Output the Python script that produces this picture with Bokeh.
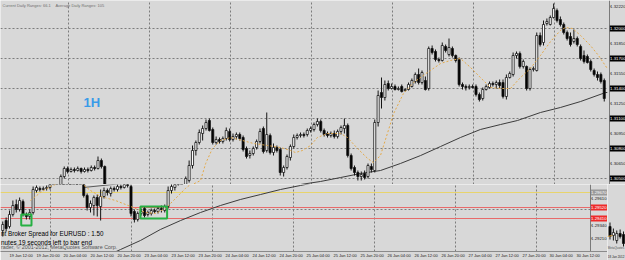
from bokeh.plotting import figure
from bokeh.models import Range1d, FixedTicker, Label, Grid, ColumnDataSource
from bokeh.layouts import column, row
from bokeh.embed import file_html
from bokeh.resources import INLINE
from bokeh.core.properties import value

BG = "#d8d8d8"
FONT = "Liberation Sans"

# ---------------- main 1H window (EURUSD) ----------------
main_open = [
    1.3033, 1.3042, 1.3052, 1.3060, 1.3057, 1.3059, 1.3058, 1.3060, 1.3057, 1.3059,
    1.3058, 1.3061, 1.3060, 1.3068, 1.3062, 1.3042, 1.3032, 1.3036, 1.3030, 1.3034,
    1.3038, 1.3039, 1.3040, 1.3038, 1.3040, 1.3028, 1.3022, 1.3024, 1.3023, 1.3025,
    1.3024, 1.3026, 1.3025, 1.3030, 1.3034, 1.3036, 1.3038, 1.3040, 1.3042, 1.3048,
    1.3063, 1.3078, 1.3086, 1.3095, 1.3100, 1.3108, 1.3099, 1.3086, 1.3089, 1.3087,
    1.3090, 1.3097, 1.3089, 1.3092, 1.3094, 1.3091, 1.3080, 1.3073, 1.3075, 1.3081,
    1.3087, 1.3100, 1.3078, 1.3093, 1.3076, 1.3081, 1.3079, 1.3056, 1.3061, 1.3071,
    1.3082, 1.3091, 1.3093, 1.3094, 1.3094, 1.3098, 1.3099, 1.3104, 1.3107, 1.3098,
    1.3095, 1.3093, 1.3095, 1.3092, 1.3097, 1.3100, 1.3103, 1.3073, 1.3061, 1.3056,
    1.3052, 1.3055, 1.3052, 1.3062, 1.3058, 1.3106, 1.3136, 1.3131, 1.3145, 1.3140,
    1.3142, 1.3139, 1.3142, 1.3138, 1.3139, 1.3142, 1.3147, 1.3154, 1.3146, 1.3148,
    1.3140, 1.3180, 1.3177, 1.3169, 1.3168, 1.3182, 1.3174, 1.3180, 1.3173, 1.3169,
    1.3144, 1.3142, 1.3141, 1.3142, 1.3142, 1.3134, 1.3130, 1.3139, 1.3141, 1.3145,
    1.3144, 1.3146, 1.3146, 1.3132, 1.3151, 1.3154, 1.3173, 1.3175, 1.3162, 1.3162,
    1.3140, 1.3159, 1.3158, 1.3193, 1.3186, 1.3205, 1.3204, 1.3211, 1.3218, 1.3209,
    1.3204, 1.3196, 1.3192, 1.3187, 1.3190, 1.3182, 1.3173, 1.3172, 1.3167, 1.3158,
    1.3154, 1.3154, 1.3148]
main_close = [
    1.3040, 1.3052, 1.3060, 1.3057, 1.3059, 1.3058, 1.3060, 1.3057, 1.3059, 1.3058,
    1.3061, 1.3060, 1.3068, 1.3062, 1.3042, 1.3032, 1.3036, 1.3030, 1.3034, 1.3038,
    1.3039, 1.3040, 1.3038, 1.3040, 1.3028, 1.3022, 1.3024, 1.3023, 1.3025, 1.3024,
    1.3026, 1.3025, 1.3030, 1.3034, 1.3036, 1.3038, 1.3040, 1.3042, 1.3050, 1.3063,
    1.3078, 1.3086, 1.3096, 1.3100, 1.3106, 1.3098, 1.3086, 1.3089, 1.3087, 1.3090,
    1.3098, 1.3089, 1.3092, 1.3094, 1.3090, 1.3079, 1.3072, 1.3075, 1.3080, 1.3087,
    1.3097, 1.3077, 1.3094, 1.3076, 1.3081, 1.3078, 1.3056, 1.3061, 1.3072, 1.3082,
    1.3091, 1.3093, 1.3094, 1.3093, 1.3098, 1.3100, 1.3104, 1.3107, 1.3098, 1.3094,
    1.3093, 1.3095, 1.3092, 1.3097, 1.3101, 1.3103, 1.3073, 1.3060, 1.3056, 1.3052,
    1.3054, 1.3051, 1.3063, 1.3059, 1.3106, 1.3133, 1.3131, 1.3144, 1.3140, 1.3142,
    1.3139, 1.3140, 1.3137, 1.3139, 1.3144, 1.3148, 1.3154, 1.3146, 1.3156, 1.3139,
    1.3180, 1.3176, 1.3169, 1.3168, 1.3183, 1.3178, 1.3181, 1.3173, 1.3168, 1.3144,
    1.3142, 1.3141, 1.3142, 1.3141, 1.3134, 1.3129, 1.3139, 1.3142, 1.3145, 1.3144,
    1.3146, 1.3143, 1.3132, 1.3151, 1.3155, 1.3173, 1.3175, 1.3162, 1.3167, 1.3140,
    1.3159, 1.3160, 1.3193, 1.3184, 1.3204, 1.3207, 1.3211, 1.3220, 1.3208, 1.3204,
    1.3196, 1.3190, 1.3184, 1.3190, 1.3184, 1.3170, 1.3167, 1.3166, 1.3159, 1.3154,
    1.3151, 1.3147, 1.3130]
main_high = [
    1.3042, 1.3054, 1.3062, 1.3062, 1.3061, 1.3061, 1.3062, 1.3061, 1.3061, 1.3061,
    1.3063, 1.3063, 1.3072, 1.3070, 1.3063, 1.3042, 1.3040, 1.3039, 1.3038, 1.3040,
    1.3041, 1.3042, 1.3042, 1.3042, 1.3041, 1.3030, 1.3026, 1.3027, 1.3028, 1.3028,
    1.3029, 1.3029, 1.3032, 1.3036, 1.3039, 1.3040, 1.3041, 1.3043, 1.3052, 1.3068,
    1.3083, 1.3088, 1.3099, 1.3103, 1.3109, 1.3110, 1.3101, 1.3092, 1.3091, 1.3092,
    1.3101, 1.3100, 1.3095, 1.3096, 1.3096, 1.3093, 1.3082, 1.3078, 1.3082, 1.3089,
    1.3100, 1.3102, 1.3116, 1.3095, 1.3085, 1.3083, 1.3081, 1.3063, 1.3074, 1.3084,
    1.3094, 1.3095, 1.3096, 1.3096, 1.3100, 1.3102, 1.3106, 1.3110, 1.3109, 1.3100,
    1.3097, 1.3097, 1.3098, 1.3099, 1.3103, 1.3110, 1.3105, 1.3075, 1.3063, 1.3058,
    1.3057, 1.3058, 1.3065, 1.3065, 1.3109, 1.3138, 1.3151, 1.3148, 1.3148, 1.3145,
    1.3144, 1.3142, 1.3144, 1.3140, 1.3146, 1.3150, 1.3156, 1.3160, 1.3158, 1.3152,
    1.3182, 1.3183, 1.3179, 1.3171, 1.3186, 1.3184, 1.3190, 1.3182, 1.3174, 1.3171,
    1.3146, 1.3144, 1.3144, 1.3144, 1.3144, 1.3136, 1.3141, 1.3144, 1.3147, 1.3147,
    1.3148, 1.3149, 1.3149, 1.3154, 1.3157, 1.3176, 1.3177, 1.3177, 1.3169, 1.3163,
    1.3161, 1.3162, 1.3196, 1.3196, 1.3208, 1.3210, 1.3213, 1.3225, 1.3220, 1.3212,
    1.3206, 1.3198, 1.3196, 1.3199, 1.3192, 1.3184, 1.3178, 1.3174, 1.3169, 1.3160,
    1.3157, 1.3156, 1.3150]
main_low = [
    1.3030, 1.3040, 1.3050, 1.3055, 1.3056, 1.3056, 1.3057, 1.3055, 1.3056, 1.3056,
    1.3057, 1.3058, 1.3059, 1.3060, 1.3038, 1.3028, 1.3026, 1.3024, 1.3028, 1.3032,
    1.3035, 1.3036, 1.3035, 1.3036, 1.3024, 1.3018, 1.3019, 1.3020, 1.3021, 1.3021,
    1.3022, 1.3022, 1.3023, 1.3028, 1.3031, 1.3033, 1.3035, 1.3037, 1.3040, 1.3046,
    1.3060, 1.3073, 1.3084, 1.3088, 1.3098, 1.3097, 1.3084, 1.3084, 1.3085, 1.3085,
    1.3088, 1.3087, 1.3087, 1.3089, 1.3088, 1.3077, 1.3070, 1.3070, 1.3073, 1.3079,
    1.3085, 1.3075, 1.3076, 1.3074, 1.3073, 1.3076, 1.3053, 1.3052, 1.3059, 1.3068,
    1.3080, 1.3089, 1.3091, 1.3091, 1.3092, 1.3096, 1.3097, 1.3102, 1.3096, 1.3092,
    1.3091, 1.3091, 1.3090, 1.3090, 1.3094, 1.3095, 1.3071, 1.3058, 1.3053, 1.3048,
    1.3048, 1.3049, 1.3050, 1.3056, 1.3056, 1.3102, 1.3120, 1.3128, 1.3138, 1.3139,
    1.3138, 1.3138, 1.3136, 1.3137, 1.3138, 1.3141, 1.3145, 1.3144, 1.3144, 1.3138,
    1.3138, 1.3174, 1.3167, 1.3166, 1.3167, 1.3176, 1.3172, 1.3171, 1.3166, 1.3142,
    1.3139, 1.3138, 1.3139, 1.3140, 1.3132, 1.3127, 1.3128, 1.3138, 1.3140, 1.3142,
    1.3140, 1.3140, 1.3130, 1.3129, 1.3150, 1.3152, 1.3170, 1.3160, 1.3160, 1.3138,
    1.3138, 1.3157, 1.3157, 1.3182, 1.3183, 1.3203, 1.3203, 1.3210, 1.3206, 1.3202,
    1.3194, 1.3188, 1.3182, 1.3185, 1.3182, 1.3168, 1.3165, 1.3165, 1.3157, 1.3152,
    1.3148, 1.3145, 1.3127]

# dotted orange (fast) and dark (slow) moving averages: (bar, price)
ma_fast_bar = [39.4, 42.4, 43.9, 45.9, 48.3, 51.3, 54.8, 58.1, 62.2, 66.1, 69.0, 70.5,
               72.6, 75.0, 77.0, 80.0, 83.9, 85.9, 88.9, 91.9, 93.6, 95.7, 99.6, 102.5,
               105.5, 109.6, 113.5, 116.4, 119.4, 122.4, 125.3, 128.3, 131.3, 134.2,
               137.2, 140.1, 143.1, 146.1, 149.0, 150.5, 152.6, 155.0, 157.9, 160.3, 162.9]
ma_fast = [1.3043, 1.3048, 1.3065, 1.3080, 1.3088, 1.3091, 1.3088, 1.3085, 1.3083, 1.3081,
           1.3078, 1.3076, 1.3078, 1.3083, 1.3091, 1.3095, 1.3095, 1.3091, 1.3080, 1.3070,
           1.3066, 1.3073, 1.3115, 1.3135, 1.3146, 1.3156, 1.3165, 1.3168, 1.3170, 1.3161,
           1.3151, 1.3141, 1.3140, 1.3140, 1.3151, 1.3160, 1.3173, 1.3187, 1.3198, 1.3201,
           1.3200, 1.3193, 1.3183, 1.3173, 1.3160]
ma_slow_bar = [60.1, 64.0, 69.0, 72.0, 77.9, 83.9, 89.8, 95.7, 101.6, 107.6, 113.5, 119.4,
               125.3, 131.3, 136.3, 143.1, 149.0, 155.0, 162.4, 162.9]
ma_slow = [1.3034, 1.3038, 1.3042, 1.3044, 1.3047, 1.3051, 1.3055, 1.3058, 1.3065, 1.3073,
           1.3082, 1.3091, 1.3099, 1.3104, 1.3108, 1.3116, 1.3121, 1.3127, 1.3136, 1.3136]

main_grid_prices = [1.3200, 1.3170, 1.3140, 1.3110, 1.3080, 1.3050]
main_tick_prices = [1.3222, 1.3185, 1.3155, 1.3125, 1.3095, 1.3065]
main_vgrid_bars = [3.26, 27.26, 51.26, 75.26, 99.26, 123.26, 147.26]

# ---------------- lower window ----------------
bot_open = [
    1.2929, 1.2939, 1.2933, 1.2945, 1.2955, 1.2950, 1.2958, 1.2945, 1.2943, 1.2947,
    1.2969, 1.2971, 1.2970, 1.2971, 1.2972, 1.2977, 1.2983, 1.2987, 1.2989, 1.2988,
    1.2990, 1.2989, 1.2991, 1.2990, 1.2989, 1.2964, 1.2952, 1.2954, 1.2962, 1.2953,
    1.2963, 1.2969, 1.2966, 1.2971, 1.2970, 1.2973, 1.2972, 1.2975, 1.2973, 1.2948,
    1.2940, 1.2946, 1.2951, 1.2945, 1.2946, 1.2949, 1.2948, 1.2951, 1.2949, 1.2953,
    1.2969, 1.2972, 1.2977, 1.2979]
bot_close = [
    1.2935, 1.2931, 1.2945, 1.2954, 1.2950, 1.2959, 1.2945, 1.2943, 1.2947, 1.2970,
    1.2972, 1.2970, 1.2971, 1.2972, 1.2977, 1.2983, 1.2987, 1.2989, 1.2988, 1.2990,
    1.2989, 1.2991, 1.2990, 1.2993, 1.2964, 1.2952, 1.2956, 1.2962, 1.2954, 1.2963,
    1.2969, 1.2967, 1.2971, 1.2970, 1.2973, 1.2972, 1.2975, 1.2974, 1.2946, 1.2940,
    1.2946, 1.2948, 1.2944, 1.2947, 1.2949, 1.2948, 1.2951, 1.2950, 1.2953, 1.2969,
    1.2973, 1.2977, 1.2979, 1.2983]
bot_high = [
    1.2938, 1.2942, 1.2949, 1.2959, 1.2960, 1.2962, 1.2960, 1.2947, 1.2950, 1.2973,
    1.2974, 1.2973, 1.2973, 1.2974, 1.2981, 1.2985, 1.2989, 1.2991, 1.2991, 1.2992,
    1.2992, 1.2993, 1.2994, 1.2999, 1.2991, 1.2966, 1.2959, 1.2964, 1.2965, 1.2970,
    1.2972, 1.2971, 1.2973, 1.2973, 1.2975, 1.2975, 1.2977, 1.2978, 1.2975, 1.2950,
    1.2948, 1.2951, 1.2953, 1.2949, 1.2951, 1.2951, 1.2953, 1.2954, 1.2955, 1.2973,
    1.2977, 1.2979, 1.2983, 1.2987]
bot_low = [
    1.2923, 1.2928, 1.2931, 1.2943, 1.2947, 1.2948, 1.2943, 1.2940, 1.2940, 1.2945,
    1.2967, 1.2968, 1.2969, 1.2969, 1.2970, 1.2976, 1.2979, 1.2984, 1.2985, 1.2986,
    1.2987, 1.2987, 1.2987, 1.2987, 1.2962, 1.2949, 1.2947, 1.2944, 1.2943, 1.2939,
    1.2961, 1.2964, 1.2963, 1.2968, 1.2968, 1.2970, 1.2971, 1.2972, 1.2943, 1.2937,
    1.2938, 1.2944, 1.2942, 1.2943, 1.2944, 1.2946, 1.2946, 1.2947, 1.2947, 1.2951,
    1.2966, 1.2969, 1.2974, 1.2977]

bot_fast_bar = [8.2, 11.2, 14.1, 17.1, 23.0, 26.0, 29.0, 33.4, 37.9, 42.3, 45.3, 48.2,
                51.2, 54.1, 57.1]
bot_fast = [1.2959, 1.2967, 1.2973, 1.2977, 1.2977, 1.2969, 1.2963, 1.2959, 1.2953,
            1.2947, 1.2946, 1.2951, 1.2961, 1.2971, 1.2979]
bot_slow_bar = [30.4, 34.9, 40.8, 46.7, 52.7, 58.6, 64.5, 70.4, 76.4, 82.3, 88.2, 94.1]
bot_slow = [1.2903, 1.2910, 1.2919, 1.2930, 1.2939, 1.2947, 1.2954, 1.2960, 1.2965,
            1.2970, 1.2974, 1.2978]
trend_bar = [23.9, 38.4]
trend_price = [1.2972, 1.2977]

box_left = [5.47, 40.8]
box_right = [8.52, 48.7]
box_top = [1.2945, 1.2953]
box_bottom = [1.2934, 1.2941]

red_levels = [1.2952, 1.2941]
yellow_level = 1.2967
bot_grid_prices = [1.2950]
bot_tick_prices = [1.2961, 1.2934, 1.2921]
bot_vgrid_bars = [14.15, 38.15, 62.15, 86.15, 110.15, 134.15, 158.15]

time_labels = ["19 Jan 12:00", "19 Jan 20:00", "20 Jan 04:00", "20 Jan 12:00",
               "20 Jan 20:00", "23 Jan 04:00", "23 Jan 12:00", "23 Jan 20:00",
               "24 Jan 04:00", "24 Jan 12:00", "24 Jan 20:00", "25 Jan 04:00",
               "25 Jan 12:00", "25 Jan 20:00", "26 Jan 04:00", "26 Jan 12:00",
               "26 Jan 20:00", "27 Jan 04:00", "27 Jan 12:00", "27 Jan 20:00",
               "30 Jan 04:00", "30 Jan 12:00"]
time_bars = [2, 10, 18, 26, 34, 42, 50, 58, 66, 74, 82, 90, 98, 106, 114, 122,
             130, 138, 146, 154, 162, 170]

# ---------------- small third window ----------------
third_open = [1.2933, 1.2924, 1.2919, 1.2926, 1.2925]
third_close = [1.2923, 1.2927, 1.2926, 1.2923, 1.2916]
third_high = [1.2937, 1.2931, 1.2929, 1.2930, 1.2928]
third_low = [1.2920, 1.2919, 1.2916, 1.2921, 1.2913]

BAR_PX = 3.375   # pixels per bar in both windows


def candles(p, o, c, h, l, w=0.62):
    x = list(range(len(o)))
    src = ColumnDataSource(dict(
        x=x, h=h, l=l,
        top=[max(a, b) for a, b in zip(o, c)],
        bot=[min(a, b) for a, b in zip(o, c)],
        fill=["#ffffff" if b >= a else "#000000" for a, b in zip(o, c)]))
    p.segment("x", "h", "x", "l", source=src, line_color="#151515", line_width=1)
    p.vbar(x="x", width=w, top="top", bottom="bot", fill_color="fill",
           line_color="#151515", line_width=0.8, source=src)


def base(p):
    p.background_fill_color = BG
    p.border_fill_color = BG
    p.outline_line_color = None
    p.grid.grid_line_color = None


def vgrid(p, bars):
    p.add_layout(Grid(dimension=0, ticker=FixedTicker(ticks=bars),
                      grid_line_color="#7c7c7c", grid_line_dash="2 2", grid_line_width=1))


def hgrid(p, prices, x0, x1):
    p.segment([x0] * len(prices), prices, [x1] * len(prices), prices,
              line_color="#7c7c7c", line_dash="2 2", line_width=1)


def price_scale(p, x_line, x_text, ticks, y0, y1, boxes):
    """MT4-style price scale: axis line, tick labels and coloured level boxes."""
    p.segment([x_line], [y0], [x_line], [y1], line_color="#7a7a7a", line_width=1)
    p.segment([x_line] * len(ticks), ticks, [x_line + 0.35] * len(ticks), ticks,
              line_color="#7a7a7a", line_width=1)
    p.text([x_text] * len(ticks), ticks, text=[f"{t:.5f}" for t in ticks],
           text_font=value(FONT), text_font_size=value("4.3px"), text_color="#202020",
           text_baseline="middle", text_align="left")
    for pr, bg, fg in boxes:
        p.quad(left=[x_line + 0.1], right=[x_line + 6], top=[pr + 0.00031],
               bottom=[pr - 0.00031], fill_color=bg, line_color=None)
        p.text([x_text], [pr], text=[f"{pr:.5f}"], text_font=value(FONT),
               text_font_size=value("4.3px"), text_color=fg,
               text_baseline="middle", text_align="left")


# ---- main figure (frame spans the whole width; price scale drawn at right) ----
m_x0 = -57 / BAR_PX
m_edge = m_x0 + 607 / BAR_PX
m_x1 = m_x0 + 625 / BAR_PX
main = figure(width=625, height=184, frame_width=625, frame_height=184,
              x_range=Range1d(m_x0, m_x1), y_range=Range1d(1.3044, 1.3228),
              x_axis_location=None, y_axis_location=None,
              output_backend="svg", toolbar_location=None, min_border=0)
base(main)
vgrid(main, main_vgrid_bars)
hgrid(main, main_grid_prices, m_x0, m_edge)
main.line(ma_slow_bar, ma_slow, line_color="#3c3c3c", line_width=1)
candles(main, main_open, main_close, main_high, main_low)
main.line(ma_fast_bar, ma_fast, line_color="#e3a94a", line_width=1, line_dash="2 2")
price_scale(main, m_edge + 2 / BAR_PX, m_edge + 2.6 / BAR_PX, main_tick_prices,
            1.3044, 1.3228, [(pr, "#000000", "#ffffff") for pr in main_grid_prices])

main.add_layout(Label(x=m_x0 + 2 / BAR_PX, y=1.3221, text="Current Daily Ranges: 66.1",
                      text_font=FONT, text_font_size="4px", text_color="#707070"))
main.add_layout(Label(x=m_x0 + 55 / BAR_PX, y=1.3221, text="Average Daily Ranges: 105",
                      text_font=FONT, text_font_size="4px", text_color="#707070"))
main.add_layout(Label(x=m_x0 + 83 / BAR_PX, y=1.3119, text="1H", text_font=FONT,
                      text_font_size="13px", text_font_style="bold",
                      text_color="#3a9be8"))

# ---- lower figure ----
b_x0 = -2.25 / BAR_PX
b_edge = b_x0 + 590 / BAR_PX
b_x1 = b_x0 + 607 / BAR_PX
bot = figure(width=607, height=76, frame_width=607, frame_height=67,
             x_range=Range1d(b_x0, b_x1), y_range=Range1d(1.2908, 1.2975),
             x_axis_location="below", y_axis_location=None,
             output_backend="svg", toolbar_location=None,
             min_border=0, min_border_bottom=9)
base(bot)
xa = bot.xaxis[0]
xt = [round(b + 3.43, 2) for b in time_bars]
xa.ticker = FixedTicker(ticks=xt)
xa.major_label_overrides = {t: s for t, s in zip(xt, time_labels)}
xa.axis_line_color = "#8a8a8a"
xa.major_tick_line_color = None
xa.major_tick_out = 0
xa.major_tick_in = 0
xa.minor_tick_line_color = None
xa.minor_tick_out = 0
xa.major_label_standoff = 1
xa.major_label_text_font = FONT
xa.major_label_text_font_size = "4px"
xa.major_label_text_color = "#202020"

vgrid(bot, bot_vgrid_bars)
hgrid(bot, bot_grid_prices, b_x0, b_edge)
bot.segment([b_x0], [yellow_level], [b_edge], [yellow_level], line_color="#e8d46c", line_width=1)
bot.segment([b_x0] * 2, red_levels, [b_edge] * 2, red_levels, line_color="#e86a6a", line_width=1)
bot.line(bot_slow_bar, bot_slow, line_color="#3c3c3c", line_width=1)
bot.line(trend_bar, trend_price, line_color="#5a5a5a", line_width=1)
candles(bot, bot_open, bot_close, bot_high, bot_low)
bot.line(bot_fast_bar, bot_fast, line_color="#e3a94a", line_width=1, line_dash="2 2")
bot.quad(left=box_left, right=box_right, top=box_top, bottom=box_bottom,
         fill_color=None, line_color="#26b043", line_width=2)
price_scale(bot, b_edge, b_edge + 0.6 / BAR_PX, bot_tick_prices, 1.2908, 1.2975,
            [(yellow_level, "#9a9a9a", "#ffffff")] +
            [(lv, "#ee2a2a", "#ffffff") for lv in red_levels])

bot.add_layout(Label(x=0.5, y=1.2923, x_units="screen",
                     text="nt Broker Spread for EURUSD : 1.50",
                     text_font=FONT, text_font_size="6.3px", text_color="#000000"))
bot.add_layout(Label(x=0.5, y=1.2914, x_units="screen",
                     text="nutes 19 seconds left to bar end",
                     text_font=FONT, text_font_size="6.4px", text_color="#000000"))
bot.add_layout(Label(x=0.5, y=1.29095, x_units="screen",
                     text="rader, \u00a9 2001-2012, MetaQuotes Software Corp.",
                     text_font=FONT, text_font_size="5.4px", text_color="#555555"))

# ---- third small window ----
third = figure(width=18, height=76, frame_width=18, frame_height=76,
               x_range=Range1d(-0.74, 4.59), y_range=Range1d(1.2899, 1.2975),
               x_axis_location=None, y_axis_location=None,
               output_backend="svg", toolbar_location=None, min_border=0)
base(third)
candles(third, third_open, third_close, third_high, third_low)
third.line([-0.74, 0.74], [1.2923, 1.2924], line_color="#e3a94a", line_width=1)
third.add_layout(Label(x=0.3, y=1.2910, x_units="screen", text="MetaQuotes",
                       text_font=FONT, text_font_size="3px", text_color="#555555"))
third.add_layout(Label(x=0.3, y=1.2901, x_units="screen", text="18 Jan 2012",
                       text_font=FONT, text_font_size="3px", text_color="#202020"))

layout = column(main, row(bot, third, spacing=0), spacing=0)
open("out.html", "w").write(file_html(layout, INLINE))
